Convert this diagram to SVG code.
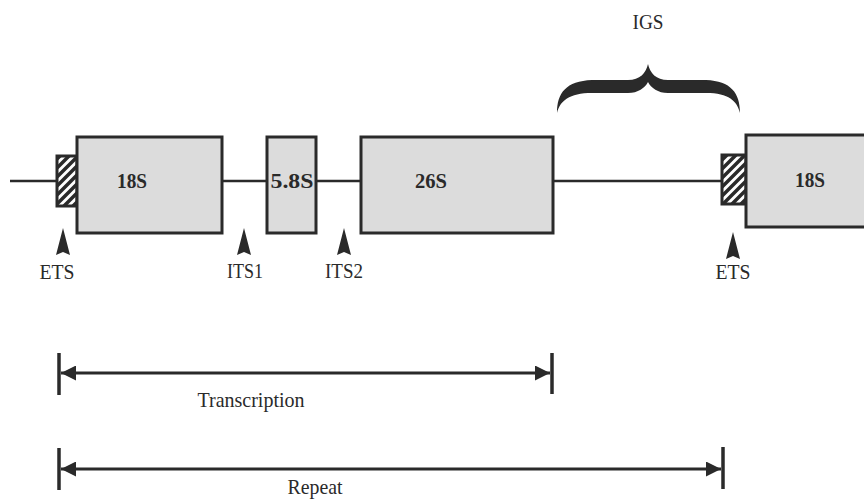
<svg xmlns="http://www.w3.org/2000/svg" width="864" height="500" viewBox="0 0 864 500">
<defs>
<style>
.bx{fill:#dcdcdc;stroke:#2a2a2a;stroke-width:3}
.ets{fill:url(#hatch);stroke:#2a2a2a;stroke-width:3}
.ln{stroke:#2a2a2a;stroke-width:2.5;fill:none}
.dim{stroke:#2a2a2a;stroke-width:3;fill:none}
.tk{stroke:#2a2a2a;stroke-width:3.5}
.lb{font-family:"Liberation Serif","Times New Roman",serif;font-size:22px;fill:#2a2a2a;text-anchor:middle}
.bl{font-family:"Liberation Serif","Times New Roman",serif;font-size:21px;font-weight:bold;fill:#2a2a2a;text-anchor:middle}
.ptr{fill:#2a2a2a}
</style>
<pattern id="hatch" patternUnits="userSpaceOnUse" width="9" height="9">
<rect width="9" height="9" fill="#ffffff"/>
<path d="M-2,2 L2,-2 M0,9 L9,0 M7,11 L11,7" stroke="#2a2a2a" stroke-width="3.5"/>
</pattern>
<marker id="ah" viewBox="0 0 10 10" refX="10" refY="5" markerWidth="8.5" markerHeight="5" markerUnits="strokeWidth" orient="auto-start-reverse">
<path d="M0,0 L10,5 L0,10 Z" fill="#2a2a2a"/>
</marker>
<path id="pt" d="M0,0 L7,27 L0,24 L-7,27 Z"/>
</defs>

<g id="connectors">
<line class="ln" x1="10" y1="181" x2="57" y2="181"/>
<line class="ln" x1="222" y1="181" x2="267" y2="181"/>
<line class="ln" x1="316" y1="181" x2="361" y2="181"/>
<line class="ln" x1="553" y1="181" x2="722" y2="181"/>
</g>

<g id="ets-left">
<rect class="ets" x="57" y="156" width="20" height="50"/>
</g>
<g id="s18-left">
<rect class="bx" x="77" y="137" width="145" height="96"/>
<text class="bl" x="132" y="188" textLength="30" lengthAdjust="spacingAndGlyphs">18S</text>
</g>
<g id="s58">
<rect class="bx" x="267" y="137" width="49" height="96"/>
<text class="bl" x="292" y="188" textLength="43" lengthAdjust="spacingAndGlyphs">5.8S</text>
</g>
<g id="s26">
<rect class="bx" x="361" y="137" width="192" height="96"/>
<text class="bl" x="431" y="188" textLength="32" lengthAdjust="spacingAndGlyphs">26S</text>
</g>
<g id="ets-right">
<rect class="ets" x="722" y="155" width="24" height="49"/>
</g>
<g id="s18-right">
<rect class="bx" x="746" y="135" width="130" height="92"/>
<text class="bl" x="810" y="187" textLength="30" lengthAdjust="spacingAndGlyphs">18S</text>
</g>

<g id="igs">
<path class="ptr" d="M557,113 C557,93 566,81 592,80 L628,80 C640,80 646,73 648,64 C650,73 656,80 668,80 L706,80 C731,81 740,93 740,113 C737,101 729,93 706,93 L668,93 C658,93 651,88 648,82 C645,88 638,93 628,93 L592,93 C569,93 560,101 557,113 Z"/>
<text class="lb" x="648" y="29" font-size="19" textLength="31" lengthAdjust="spacingAndGlyphs">IGS</text>
</g>

<g id="ptr-ets-left">
<use href="#pt" class="ptr" x="63" y="228"/>
<text class="lb" x="57" y="279" textLength="35" lengthAdjust="spacingAndGlyphs">ETS</text>
</g>
<g id="ptr-its1">
<use href="#pt" class="ptr" x="244" y="228"/>
<text class="lb" x="245" y="278" textLength="36" lengthAdjust="spacingAndGlyphs">ITS1</text>
</g>
<g id="ptr-its2">
<use href="#pt" class="ptr" x="344" y="228"/>
<text class="lb" x="344" y="278" textLength="38" lengthAdjust="spacingAndGlyphs">ITS2</text>
</g>
<g id="ptr-ets-right">
<use href="#pt" class="ptr" x="733" y="232"/>
<text class="lb" x="733" y="279" textLength="35" lengthAdjust="spacingAndGlyphs">ETS</text>
</g>

<g id="transcription">
<line class="tk" x1="59" y1="353" x2="59" y2="395"/>
<line class="tk" x1="552" y1="353" x2="552" y2="394"/>
<line class="dim" x1="61" y1="373" x2="550" y2="373" marker-start="url(#ah)" marker-end="url(#ah)"/>
<text class="lb" x="251" y="407" textLength="107" lengthAdjust="spacingAndGlyphs">Transcription</text>
</g>
<g id="repeat">
<line class="tk" x1="59" y1="448" x2="59" y2="490"/>
<line class="tk" x1="723" y1="447" x2="723" y2="489"/>
<line class="dim" x1="61" y1="469" x2="721" y2="469" marker-start="url(#ah)" marker-end="url(#ah)"/>
<text class="lb" x="315" y="494" font-size="21" textLength="55" lengthAdjust="spacingAndGlyphs">Repeat</text>
</g>
</svg>
